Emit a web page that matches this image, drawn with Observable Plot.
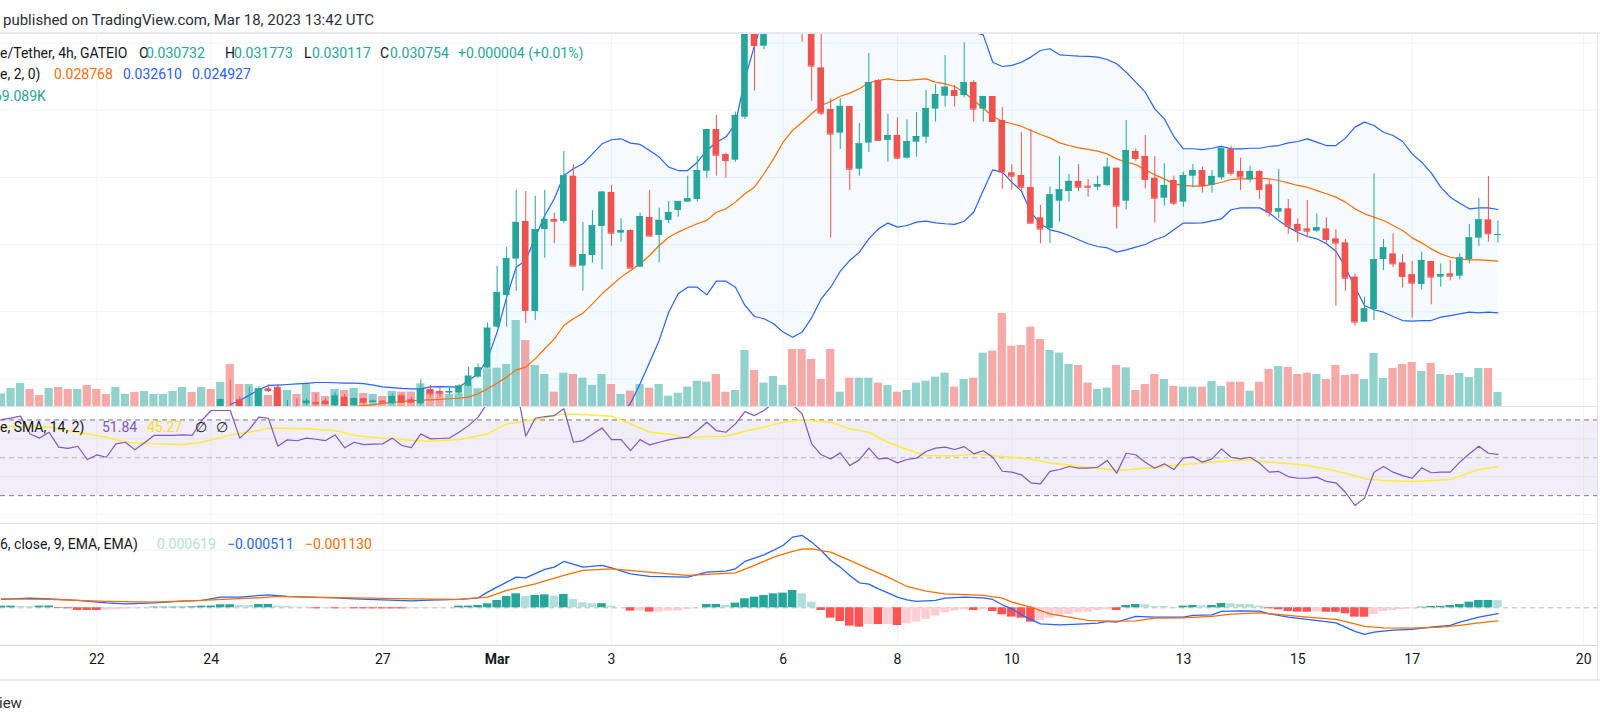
<!DOCTYPE html>
<html><head><meta charset="utf-8">
<script src="https://cdn.jsdelivr.net/npm/d3@7"></script>
<script src="https://cdn.jsdelivr.net/npm/@observablehq/plot@0.6"></script>
<style>
html,body{margin:0;padding:0;background:#fff;}
body{width:1600px;height:724px;position:relative;overflow:hidden;font-family:Roboto,"Noto Sans",sans-serif;color:#131722;}
.t{position:absolute;white-space:nowrap;font-size:14px;line-height:18px;}
.pane{position:absolute;left:0;width:1600px;}
.sep{position:absolute;left:0;width:1600px;z-index:5;}
.up{color:#26a69a}.or{color:#ff6d00}.bl{color:#2962ff}
</style></head><body>
<div class="t" style="left:3px;top:11px;font-size:15px;color:#2a2e39">published on TradingView.com, Mar 18, 2023 13:42 UTC</div>

<div id="main" class="pane" style="top:33px;height:373px"></div>
<div id="rsi" class="pane" style="top:406px;height:117px"></div>
<div id="macd" class="pane" style="top:523px;height:156px"></div>

<div class="sep" style="top:32px;height:2px;background:#e9eaf0"></div>
<div class="sep" style="top:406px;height:1px;width:1597px;background:#e0e3eb"></div>
<div class="sep" style="top:523px;height:1px;width:1597px;background:#e0e3eb"></div>
<div class="sep" style="top:645px;height:1px;width:1597px;background:#d1d4dc"></div>
<div class="sep" style="top:679px;height:2px;background:#e9eaf0"></div>
<div class="sep" style="top:33px;left:1597px;width:1px;height:647px;background:#e0e3eb"></div>

<div class="t" style="left:0;top:44px">e/Tether, 4h, GATEIO</div>
<div class="t" style="left:139px;top:44px">O</div><div class="t up" style="left:146px;top:44px">0.030732</div>
<div class="t" style="left:225px;top:44px">H</div><div class="t up" style="left:234px;top:44px">0.031773</div>
<div class="t" style="left:304px;top:44px">L</div><div class="t up" style="left:312px;top:44px">0.030117</div>
<div class="t" style="left:380px;top:44px">C</div><div class="t up" style="left:390px;top:44px">0.030754</div>
<div class="t up" style="left:458px;top:44px">+0.000004 (+0.01%)</div>
<div class="t" style="left:0;top:65px">e, 2, 0)</div>
<div class="t or" style="left:54px;top:65px">0.028768</div>
<div class="t bl" style="left:123px;top:65px">0.032610</div>
<div class="t bl" style="left:192px;top:65px">0.024927</div>
<div class="t up" style="left:-6px;top:87px">69.089K</div>

<div class="t" style="left:0;top:418px;z-index:6">e, SMA, 14, 2)</div>
<div class="t" style="left:102px;top:418px;color:#7e57c2;z-index:6">51.84</div>
<div class="t" style="left:147px;top:418px;color:#f5dd2a;z-index:6">45.27</div>
<div class="t" style="left:195px;top:418px;z-index:6">∅</div>
<div class="t" style="left:216px;top:418px;z-index:6">∅</div>

<div class="t" style="left:0;top:535px;z-index:6">6, close, 9, EMA, EMA)</div>
<div class="t" style="left:157px;top:535px;color:#b2dfdb;z-index:6">0.000619</div>
<div class="t bl" style="left:227px;top:535px;z-index:6">−0.000511</div>
<div class="t or" style="left:305px;top:535px;z-index:6">−0.001130</div>

<div class="t" style="left:-1px;top:694px;font-size:15px;color:#2a2e39">iew</div>

<script>
// ---------- DATA ----------
// 4h bars, first bar Feb 20 2023 08:00 UTC, last bar Mar 18 12:00 UTC (158 bars)
const firstBar = "2023-02-20T08:00:00Z";
const barCount = 158;

const tickDates = ["2023-02-22","2023-02-24","2023-02-27","2023-03-01","2023-03-03","2023-03-06","2023-03-08","2023-03-10","2023-03-13","2023-03-15","2023-03-17","2023-03-20"];
const tickLabels = ["22","24","27","Mar","3","6","8","10","13","15","17","20"];
const tickBold = [false,false,false,true,false,false,false,false,false,false,false,false];
const priceTicks = [0.020,0.025,0.030,0.035,0.040,0.045];
const rsiGrid = [20,40,60];
const rsiBand = [30,70];
const rsiMid = [50];
const macdGrid = [0.005];
const macdZero = [0];

// volume (thousands), all bars
const volume = [
62.5,88.8,113.5,83.9,54.3,88.8,93.8,83.9,83.9,103.6,
83.9,59.2,93.8,59.2,69.1,74.0,59.2,59.2,74.0,93.8,
69.1,93.8,83.9,118.4,207.3,108.6,108.6,87.2,54.3,79.0,
79.0,59.2,113.5,69.1,49.4,83.9,79.0,88.8,64.2,59.2,
49.4,74.0,70.7,70.7,111.9,79.0,70.7,59.2,62.5,103.6,
87.2,185.9,189.2,207.3,424.4,325.7,202.3,157.9,70.7,164.5,
157.9,139.8,103.6,157.9,108.6,59.2,75.7,108.6,90.5,108.6,
51.0,65.8,95.4,125.0,120.1,157.9,70.7,79.0,276.4,177.7,
115.2,148.1,103.6,281.3,281.3,231.9,133.2,281.3,70.7,139.8,
139.8,139.8,115.2,103.6,70.7,79.0,115.2,125.0,144.8,164.5,
95.4,133.2,139.8,263.2,273.1,459.0,297.7,301.0,391.5,330.6,
276.4,263.2,207.3,202.3,115.2,83.9,90.5,202.3,190.8,79.0,
108.6,157.9,133.2,98.7,95.4,95.4,95.4,123.4,98.7,120.1,
120.1,75.7,120.1,182.6,197.4,192.5,157.9,164.5,157.9,133.2,
202.3,153.0,157.9,133.2,261.6,138.2,187.5,207.3,217.1,172.7,
212.2,157.9,153.0,162.9,143.1,187.5,187.5,69.089];
const volDir = ("uuudduddud"+"dduuduuuuu"+"dududduudd"+"ududdududu"+"duddudduuu"+"uuuuuduudu"+"duuudududu"+"uuuuudduud"+"uuudddddud"+"uududuuuuu"+"dududddddd"+"uuudduudud"+"dduduuduud"+"duddudddud"+"ddduuudddu"+"duduuudu").split("");

// candles from bar 23 (earlier bars lie below the visible price range)
const candleStart = 23;
const open = [
.01790,.01790,.01845,.01780,.01790,.01926,.01938,.01785,.01793,.01816,
.01825,.01835,.01803,.01865,.01803,.01853,.01827,.01835,.01816,.01875,
.01845,.01816,.01922,.01907,.01895,.01895,.01947,.02014,.02081,.02386,
.02621,.02892,.03172,.02502,.03112,.03187,.03172,.03509,.02840,.02919,
.03135,.03388,.03085,.03105,.02832,.03202,.03068,.03180,.03254,.03316,
.03336,.03546,.03856,.03670,.03628,.03948,.04680,.04476,.04800,.05100,
.05300,.05050,.04750,.04315,.04005,.03829,.04028,.03561,.03755,.04221,
.03775,.03812,.03643,.03762,.03799,.04008,.04104,.04147,.04109,.04206,
.04008,.04102,.03923,.03534,.03514,.03425,.03199,.03120,.03323,.03395,
.03470,.03435,.03427,.03440,.03569,.03323,.03693,.03656,.03494,.03345,
.03477,.03316,.03509,.03551,.03440,.03497,.03707,.03544,.03482,.03544,
.03445,.03241,.03266,.03150,.03117,.03100,.03117,.03043,.03013,.02758,
.02423,.02517,.02889,.02931,.02864,.02777,.02703,.02874,.02758,.02782,
.02765,.02889,.03048,.03184,.030732];
const high = [
.01852,.01992,.01865,.01939,.01943,.01958,.01958,.01840,.01852,.01852,
.01890,.01850,.01897,.01885,.01860,.01858,.01843,.01840,.01890,.01890,
.01865,.01994,.01952,.01934,.01947,.01957,.02088,.02113,.02418,.02837,
.02979,.03403,.03395,.03360,.03403,.03234,.03693,.03596,.03165,.03254,
.03395,.03440,.03192,.03110,.03234,.03403,.03271,.03321,.03321,.03509,
.03656,.03856,.03961,.03680,.03985,.04720,.04780,.04900,.05250,.05450,
.05500,.05150,.04800,.04620,.04085,.04085,.04028,.03901,.04422,.04228,
.03968,.03943,.03928,.03983,.04147,.04191,.04407,.04184,.04501,.04221,
.04102,.04102,.04018,.03594,.03834,.03856,.03291,.03427,.03656,.03522,
.03594,.03484,.03509,.03643,.03569,.03923,.03713,.03812,.03656,.03601,
.03509,.03539,.03596,.03576,.03551,.03717,.03732,.03643,.03583,.03551,
.03477,.03559,.03335,.03192,.03328,.03229,.03199,.03110,.03038,.02782,
.02609,.03526,.03038,.03080,.02926,.02874,.02944,.02874,.02857,.02882,
.02931,.03150,.03345,.03507,.031773];
const low = [
.01780,.01770,.01780,.01775,.01785,.01900,.01780,.01775,.01775,.01800,
.01800,.01805,.01795,.01795,.01798,.01810,.01820,.01822,.01810,.01820,
.01815,.01805,.01865,.01865,.01880,.01880,.01940,.02005,.02076,.02380,
.02386,.02654,.02411,.02435,.02899,.03006,.03155,.02840,.02654,.02862,
.02812,.02988,.03018,.02825,.02832,.03063,.02864,.03155,.03204,.03316,
.03316,.03494,.03509,.03494,.03613,.03930,.04142,.04450,.04700,.04950,
.04900,.04506,.04067,.03960,.03048,.03708,.03403,.03509,.03685,.03775,
.03613,.03631,.03636,.03651,.03750,.03911,.04023,.04023,.04090,.03911,
.03911,.03911,.03413,.03403,.03400,.03159,.03006,.03006,.03167,.03316,
.03395,.03353,.03400,.03430,.03117,.03259,.03620,.03415,.03160,.03286,
.03290,.03279,.03422,.03383,.03383,.03480,.03510,.03402,.03460,.03335,
.03204,.03192,.03075,.03018,.03050,.03087,.03000,.02542,.02653,.02393,
.02423,.02435,.02807,.02830,.02678,.02452,.02663,.02552,.02683,.02730,
.02738,.02857,.02986,.03018,.030117];
const close = [
.01845,.01780,.01790,.01792,.01926,.01914,.01790,.01793,.01785,.01835,
.01815,.01816,.01873,.01803,.01853,.01827,.01835,.01828,.01870,.01827,
.01827,.01922,.01890,.01895,.01907,.01947,.02021,.02083,.02378,.02644,
.02897,.03165,.02510,.03112,.03187,.03174,.03512,.02840,.02926,.03142,
.03390,.03085,.03105,.02825,.03209,.03063,.03180,.03239,.03321,.03343,
.03551,.03856,.03665,.03626,.03961,.04680,.04481,.04800,.05100,.05300,
.05050,.04750,.04328,.03978,.03822,.04028,.03561,.03750,.04206,.03775,
.03812,.03643,.03767,.03804,.04013,.04117,.04171,.04109,.04206,.04008,
.04102,.03916,.03539,.03509,.03427,.03159,.03115,.03370,.03408,.03470,
.03427,.03427,.03447,.03576,.03286,.03700,.03641,.03484,.03345,.03440,
.03308,.03514,.03551,.03440,.03507,.03717,.03531,.03502,.03544,.03410,
.03241,.03266,.03137,.03105,.03100,.03125,.03038,.03011,.02750,.02423,
.02522,.02889,.02976,.02857,.02763,.02713,.02882,.02758,.02777,.02765,
.02901,.03050,.03184,.03080,.030754];

// Bollinger Bands (20, 2) from bar 24
const bbStart = 24;
const bbUpper = [
.0181,.0184,.0188,.0192,.01952,.01955,.01959,.01963,.01968,.01974,
.01974,.01972,.01970,.01969,.01965,.01955,.01942,.01936,.01930,.01927,
.01927,.01942,.01944,.01942,.01939,.01989,.02039,.02150,.02349,.02609,
.02832,.02882,.03055,.03217,.03341,.03514,.03564,.03601,.03675,.03750,
.03780,.03787,.03755,.03745,.03700,.03651,.03576,.03551,.03551,.03613,
.03700,.03762,.03800,.03899,.04233,.04481,.0470,.0495,.0515,.0530,
.0540,.0545,.0548,.0550,.0550,.0548,.0545,.0540,.0535,.0528,
.0520,.0510,.0500,.0490,.0480,.0472,.0466,.0461,.0458,.0456,
.04357,.04325,.04333,.04357,.04395,.04444,.04457,.04412,.04407,.04402,
.04400,.04395,.04377,.04345,.04283,.04209,.04134,.04010,.03936,.03804,
.03713,.03713,.03707,.03717,.03732,.03712,.03712,.03717,.03717,.03730,
.03737,.03757,.03767,.03787,.03762,.03737,.03737,.03792,.03874,.03911,
.03886,.03836,.03812,.03767,.03675,.03613,.03534,.03427,.03353,.03308,
.03266,.03273,.03273,.032610];
const bbBasis = [
null,null,null,null,null,null,null,null,null,null,
null,null,null,.01795,.01802,.01810,.01818,.01825,.01832,.01838,
.01843,.01845,.01848,.01853,.01858,.01865,.01890,.01927,.01969,.02014,
.02068,.02088,.02150,.02225,.02299,.02398,.02448,.02490,.02559,.02634,
.02696,.02758,.02807,.02857,.02919,.02993,.03055,.03093,.03125,.03155,
.03180,.03241,.03266,.03316,.03378,.03427,.03527,.03638,.03762,.03849,
.03910,.03973,.04035,.04065,.04104,.04127,.04159,.04204,.04221,.04233,
.04221,.04221,.04228,.04233,.04209,.04196,.04176,.04134,.04072,.04015,
.03953,.03918,.03899,.03881,.03849,.03819,.03794,.03757,.03737,.03720,
.03708,.03695,.03675,.03638,.03613,.03596,.03556,.03519,.03489,.03452,
.03440,.03435,.03435,.03447,.03464,.03484,.03489,.03489,.03494,.03489,
.03477,.03459,.03440,.03427,.03402,.03378,.03353,.03316,.03266,.03229,
.03204,.03179,.03142,.03105,.03050,.03013,.02968,.02931,.02906,.02894,
.02887,.02887,.02882,.028768];
const bbLower = [
.0177,.0175,.0172,.0168,.0165,.0164,.0163,.0163,.0163,.0163,
.0164,.0165,.0166,.0167,.0168,.0169,.0169,.0170,.0172,.0173,
.0174,.0175,.0175,.0176,.0177,.0174,.0174,.0170,.0159,.0142,
.0130,.0129,.0125,.0123,.0126,.0128,.0133,.0138,.0144,.0152,
.0161,.0173,.0182,.01964,.02125,.02287,.02497,.02634,.02683,.02683,
.02626,.02728,.02728,.02683,.02547,.02465,.02448,.02411,.02349,.02311,
.02349,.02455,.02597,.02683,.02802,.02882,.02944,.03043,.03117,.03160,
.03130,.03142,.03167,.03174,.03162,.03155,.03150,.03174,.03241,.03403,
.03556,.03539,.03465,.03398,.03241,.03155,.03110,.03093,.03068,.03036,
.03006,.02986,.02976,.02944,.02961,.02981,.03001,.03036,.03060,.03110,
.03160,.03160,.03162,.03177,.03192,.03259,.03273,.03273,.03273,.03236,
.03180,.03130,.03090,.03060,.03043,.03006,.02950,.02832,.02683,.02547,
.02515,.02497,.02465,.02435,.02430,.02435,.02435,.02460,.02472,.02485,
.02497,.02492,.02497,.024927];

// RSI (14), all bars
const rsi = [
70.2,71.0,72.0,62.6,60.4,63.5,55.6,55.0,56.1,49.1,
51.5,50.3,57.4,58.2,54.2,58.0,61.8,61.8,61.8,62.1,
61.8,69.7,75.0,75.0,75.0,60.4,65.0,71.5,70.9,56.1,
59.5,59.0,60.4,59.8,59.1,62.1,55.3,58.2,57.0,57.2,
57.4,60.4,56.5,55.4,62.6,60.0,60.2,60.4,63.5,67.0,
71.5,79.0,84.0,86.0,88.0,61.4,70.9,71.8,72.3,75.9,
58.2,59.1,62.5,65.8,59.6,59.6,53.8,59.6,56.8,58.2,
59.5,60.4,60.9,64.4,68.8,64.4,63.5,67.9,74.4,72.3,
75.0,79.0,80.0,78.0,73.2,57.4,51.6,49.4,52.6,45.9,
48.9,55.1,49.4,49.8,47.3,49.1,49.8,53.3,55.1,55.6,
54.4,55.9,52.1,53.7,50.3,42.9,42.4,41.0,36.8,36.2,
42.8,43.8,45.4,44.5,44.5,45.0,48.6,41.9,52.4,51.6,
47.7,44.5,46.8,43.8,49.8,50.5,47.7,49.4,54.7,50.3,
49.4,50.3,47.1,42.4,42.8,40.1,39.2,39.2,39.8,37.5,
36.8,31.8,24.8,28.7,42.4,45.4,42.4,40.6,39.2,44.7,
42.1,42.4,42.4,47.7,52.1,56.1,52.4,51.84];
// RSI-based MA, read at these bars
const rsiMaAt = [0,3,5,8,11,13,16,19,21,24,27,28,32,35,37,40,43,45,48,51,53,56,59,61,64,66,68,70,72,74,76,78,80,82,84,87,89,91,93,95,97,100,102,105,108,110,114,117,120,124,126,129,131,133,136,139,142,143,145,148,152,153,155,157];
const rsiMa = [66.2,66.7,66.2,63.5,60.9,58.2,57.4,57.0,58.2,62.1,64.4,65.8,65.3,64.4,61.8,60.4,59.1,58.8,59.7,62.6,67.9,70.2,73.2,72.9,72.0,67.9,63.5,62.6,60.4,61.2,61.4,63.9,66.2,68.8,70.1,68.8,65.3,63.5,58.2,54.4,51.2,50.9,52.1,50.7,49.4,47.3,45.0,43.3,44.5,46.4,47.3,48.6,48.9,47.7,46.6,44.2,40.6,38.9,38.0,37.5,38.5,40.3,43.8,45.27];

// MACD (12, 26, 9)
const macdAt = [0,3,5,8,11,13,16,19,21,23,25,28,30,32,35,37,40,43,45,48,50,51,53,54,55,57,58,59,61,63,64,66,68,72,74,76,77,78,80,82,83,84,85,86,87,88,89,90,91,92,93,94,95,96,98,99,101,103,104,105,106,107,109,111,113,115,116,117,119,121,124,125,127,128,130,132,133,135,137,140,141,142,143,144,146,148,150,152,153,155,157];
const macdLine = [0.000725,0.000841,0.000783,0.000638,0.000435,0.000348,0.000435,0.00058,0.000638,0.000928,0.000928,0.001131,0.000986,0.000928,0.00087,0.000783,0.000696,0.000609,0.000667,0.000725,0.00087,0.001363,0.002233,0.002668,0.00261,0.003335,0.003538,0.004031,0.003538,0.003683,0.00348,0.002958,0.002726,0.002668,0.003103,0.00319,0.003393,0.004031,0.004611,0.005423,0.006148,0.006293,0.005713,0.004988,0.004118,0.003538,0.002813,0.002175,0.002059,0.00165,0.001305,0.000928,0.000696,0.000551,0.000638,0.000841,0.000928,0.00087,0.000725,0.000261,-0.000087,-0.000609,-0.001392,-0.001479,-0.001421,-0.001334,-0.001189,-0.001247,-0.000754,-0.000812,-0.000812,-0.000667,-0.000609,-0.000319,-0.000261,-0.00029,-0.000522,-0.000812,-0.001015,-0.001305,-0.001682,-0.002059,-0.00232,-0.002117,-0.001943,-0.001885,-0.001682,-0.001537,-0.001247,-0.000812,-0.000511];
const signalAt = [0,5,11,16,21,27,29,32,37,43,48,51,53,56,59,61,64,67,70,72,75,77,79,81,83,84,85,87,89,91,93,95,97,99,103,105,106,108,110,112,114,116,119,121,124,127,129,132,135,137,140,142,143,145,148,151,153,155,157];
const signalLine = [0.000783,0.000725,0.000551,0.000493,0.000638,0.00087,0.000986,0.000928,0.00087,0.000783,0.000725,0.000928,0.001508,0.002088,0.002813,0.003248,0.003393,0.003161,0.002958,0.002813,0.002958,0.003045,0.003683,0.004408,0.004901,0.005104,0.005133,0.004843,0.004118,0.003393,0.002668,0.001856,0.00145,0.001218,0.001073,0.000841,0.000493,0.000058,-0.000522,-0.000812,-0.001102,-0.00116,-0.001131,-0.000899,-0.00087,-0.000754,-0.000551,-0.000435,-0.000667,-0.000812,-0.001015,-0.001392,-0.001624,-0.00174,-0.001769,-0.001682,-0.001537,-0.001305,-0.00113];
const histogram = [
0.000145,0.000145,0.000116,0.000087,0.000145,0.00016,-0.000058,-0.000087,-0.000232,-0.000232,
-0.00024,-0.000203,-0.000174,-0.000116,-0.000058,-0.000029,0.000058,0.000058,0.00006,0.000062,
0.000087,0.000145,0.00015,0.000261,0.000265,0.000203,0.0002,0.00029,0.000295,0.000145,
0.000116,0.000058,0.00005,-0.000087,-0.000058,-0.000087,-0.00008,-0.000087,-0.00009,-0.000092,
-0.000092,-0.000095,-0.000095,-0.00007,-0.00006,-0.00004,-0.000035,-0.00001,0.000145,0.00015,
0.000203,0.000348,0.000638,0.000986,0.001218,0.000986,0.001073,0.001131,0.001015,0.00116,
0.000725,0.000435,0.000348,0.00036,0.000145,0.00001,-0.00029,-0.00028,-0.000377,-0.00037,
-0.00029,-0.000285,-0.000145,-0.00001,0.00029,0.000295,0.000203,0.000406,0.000783,0.000928,
0.001073,0.001218,0.001276,0.001508,0.001218,0.000493,-0.000232,-0.000899,-0.001189,-0.001595,
-0.001682,-0.00145,-0.00146,-0.00145,-0.001537,-0.001392,-0.001247,-0.001015,-0.000725,-0.000435,
-0.00029,-0.000174,-0.000232,-0.000174,-0.000319,-0.000609,-0.000812,-0.000899,-0.001247,-0.001102,
-0.000899,-0.000725,-0.00058,-0.000435,-0.000377,-0.000232,-0.000174,-0.000232,0.000203,0.00029,
0.000261,0.000116,0.00011,0.000029,0.000145,0.000203,0.000174,0.000203,0.000377,0.000348,
0.00029,0.000275,0.000145,-0.000087,-0.000174,-0.000319,-0.000377,-0.000385,-0.00037,-0.000385,
-0.00039,-0.000522,-0.000812,-0.000815,-0.00058,-0.000319,-0.000232,-0.000145,-0.000087,0.000058,
0.000116,0.000125,0.000203,0.00029,0.000493,0.000638,0.00064,0.000619];

// ---------- SCALES / LAYOUT ----------
const HOUR = 3600e3;
const t0 = Date.parse(firstBar);
const bar = i => new Date(t0 + i * 4 * HOUR);
const shift = (t, h) => new Date(+t + h * HOUR);
const xDomain = [new Date(Date.UTC(2023,1,20,7,35)), new Date(Date.UTC(2023,2,20,5,47))];
const priceDomain = [0.017954, 0.045706];
const rsiDomain = [15.29, 77.10];
const macdDomain = [-0.00328, 0.007334];
const volAtTop = 1840.8; // volume (K) that would reach the top of the price pane
const volToPrice = d3.scaleLinear().domain([0, volAtTop]).range(priceDomain);

const UP = "#26a69a", DOWN = "#ef5350", GRID = "#f0f3fa";
const common = {width: 1600, marginLeft: 0, marginRight: 3, marginTop: 0,
  x: {type: "utc", domain: xDomain, axis: null},
  color: {type: "identity"},
  style: {fontFamily: "Roboto, 'Noto Sans', sans-serif", background: "#fff", overflow: "hidden"}};

const ticks = tickDates.map((s, i) => ({t: new Date(s + "T00:00:00Z"), label: tickLabels[i], bold: tickBold[i]}));
const candles = open.map((o, k) => ({t: bar(candleStart + k), o, h: high[k], l: low[k], c: close[k]}));
const vols = volume.map((v, i) => ({t: bar(i), v, up: volDir[i] === "u"}));
const bb = bbUpper.map((u, k) => ({t: bar(bbStart + k), up: u, mid: bbBasis[k], lo: bbLower[k]}));
const rsiRows = rsi.map((v, i) => ({t: bar(i), v}));
const rsiMaRows = rsiMaAt.map((i, k) => ({t: bar(i), v: rsiMa[k]}));
const macdRows = macdAt.map((i, k) => ({t: bar(i), v: macdLine[k]}));
const signalRows = signalAt.map((i, k) => ({t: bar(i), v: signalLine[k]}));
const histRows = histogram.map((v, i) => {
  const p = i > 0 ? histogram[i - 1] : v;
  const color = v >= 0 ? (v >= p ? "#26a69a" : "#b2dfdb") : (v <= p ? "#ff5252" : "#ffcdd2");
  return {t: bar(i), v, color};
});
const cc = d => d.c >= d.o ? UP : DOWN;

const mainPlot = Plot.plot({...common, height: 373, marginBottom: 0,
  y: {domain: priceDomain, axis: null},
  marks: [
    Plot.ruleX(ticks, {x: "t", stroke: GRID}),
    Plot.ruleY(priceTicks, {y: d => d, stroke: GRID}),
    Plot.rect(vols, {x1: d => shift(d.t, -1.72), x2: d => shift(d.t, 1.72), y1: () => priceDomain[0], y2: d => volToPrice(d.v), fill: d => d.up ? "#92d2cc" : "#f7a9a7"}),
    Plot.areaY(bb, {x: "t", y1: "lo", y2: "up", fill: "#2196f3", fillOpacity: 0.05, clip: true}),
    Plot.line(bb, {x: "t", y: "up", stroke: "#2962ff", strokeWidth: 1.2, clip: true}),
    Plot.line(bb.filter(d => d.mid != null), {x: "t", y: "mid", stroke: "#ff6d00", strokeWidth: 1.2, clip: true}),
    Plot.line(bb, {x: "t", y: "lo", stroke: "#2962ff", strokeWidth: 1.2, clip: true}),
    Plot.ruleX(candles, {x: "t", y1: "l", y2: "h", stroke: cc, strokeWidth: 1, clip: true}),
    Plot.rect(candles, {x1: d => shift(d.t, -1.4), x2: d => shift(d.t, 1.4), y1: "o", y2: "c", fill: cc, clip: true}),
    Plot.ruleY(candles, {y: "c", x1: d => shift(d.t, -1.4), x2: d => shift(d.t, 1.4), stroke: cc, clip: true})
  ]});
document.getElementById("main").append(mainPlot);

const rsiPlot = Plot.plot({...common, height: 117, marginBottom: 0,
  y: {domain: rsiDomain, axis: null},
  marks: [
    Plot.ruleX(ticks, {x: "t", stroke: GRID}),
    Plot.ruleY(rsiGrid, {y: d => d, stroke: GRID}),
    Plot.rect([rsiBand], {x1: () => xDomain[0], x2: () => xDomain[1], y1: d => d[0], y2: d => d[1], fill: "#7e57c2", fillOpacity: 0.1}),
    Plot.ruleY(rsiBand, {y: d => d, stroke: "#787b86", strokeDasharray: "5,4"}),
    Plot.ruleY(rsiMid, {y: d => d, stroke: "#787b86", strokeOpacity: 0.5, strokeDasharray: "5,4"}),
    Plot.line(rsiMaRows, {x: "t", y: "v", stroke: "#ffeb3b", strokeWidth: 1.5, clip: true}),
    Plot.line(rsiRows, {x: "t", y: "v", stroke: "#7e57c2", strokeWidth: 1.2, clip: true})
  ]});
document.getElementById("rsi").append(rsiPlot);

const macdPlot = Plot.plot({...common, height: 156, marginBottom: 34,
  y: {domain: macdDomain, axis: null},
  marks: [
    Plot.ruleX(ticks, {x: "t", stroke: GRID}),
    Plot.ruleY(macdGrid, {y: d => d, stroke: GRID}),
    Plot.ruleY(macdZero, {y: d => d, stroke: "#9598a1", strokeOpacity: 0.7, strokeDasharray: "5,4"}),
    Plot.rect(histRows, {x1: d => shift(d.t, -1.8), x2: d => shift(d.t, 1.8), y1: () => 0, y2: "v", fill: "color", clip: true}),
    Plot.line(macdRows, {x: "t", y: "v", stroke: "#2962ff", strokeWidth: 1.3, clip: true}),
    Plot.line(signalRows, {x: "t", y: "v", stroke: "#ff6d00", strokeWidth: 1.3, clip: true}),
    Plot.text(ticks.filter(d => !d.bold), {x: "t", text: "label", frameAnchor: "bottom", dy: 18, fontSize: 14, fill: "#131722"}),
    Plot.text(ticks.filter(d => d.bold), {x: "t", text: "label", frameAnchor: "bottom", dy: 18, fontSize: 14, fontWeight: 700, fill: "#131722"})
  ]});
document.getElementById("macd").append(macdPlot);
</script>
</body></html>
